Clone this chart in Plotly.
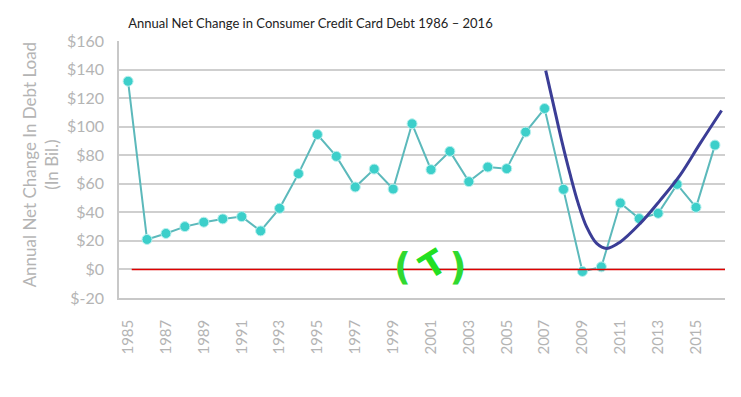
import plotly.graph_objects as go

years = list(range(1985, 2017))
net_change = [131.8, 21.0, 25.2, 30.0, 33.1, 35.4, 37.0, 27.0, 42.8, 67.1,
              94.5, 79.2, 57.7, 70.3, 56.3, 102.0, 69.9, 82.7, 61.5, 71.7,
              70.6, 96.2, 112.7, 56.1, -1.4, 1.8, 46.5, 35.6, 39.3, 59.6,
              43.5, 87.1]

trend_x = [2007.06, 2007.46, 2007.90, 2008.34, 2008.78, 2009.22, 2009.75,
           2010.28, 2010.98, 2012.04, 2013.10, 2014.15, 2015.21, 2016.35]
trend_y = [139.3, 116.0, 90.4, 67.1, 46.1, 29.8, 18.2,
           14.7, 19.1, 32.1, 48.4, 65.9, 88.1, 111.3]

x_ticks = list(range(1985, 2016, 2))
y_ticks = [-20, 0, 20, 40, 60, 80, 100, 120, 140, 160]
y_ticktext = ["$-20", "$0", "$20", "$40", "$60", "$80", "$100", "$120", "$140", "$160"]

FONT = "Lato"
GRAY = "#b4b4b4"

fig = go.Figure()

fig.add_trace(go.Scatter(
    x=years, y=net_change, mode="lines+markers",
    line=dict(color="#5cb9bb", width=2),
    marker=dict(color="#3ccfca", size=10, line=dict(color="#b8f0ee", width=1)),
    showlegend=False, hoverinfo="x+y"))

fig.add_trace(go.Scatter(
    x=trend_x, y=trend_y, mode="lines",
    line=dict(color="#3b3d96", width=3, shape="spline", smoothing=1.0),
    showlegend=False, hoverinfo="skip"))

fig.add_shape(type="line", xref="paper", yref="y", x0=0.021, x1=1.0, y0=0, y1=0,
              line=dict(color="#e00000", width=1.6), layer="above")

fig.add_annotation(x=2000.95, y=1.5, xref="x", yref="y", text="<b>(   )</b>",
                   showarrow=False, font=dict(family="DejaVu Sans", size=37, color="#30d930"))
fig.add_annotation(x=2001.1, y=4, xref="x", yref="y", text="<b>T</b>", textangle=-32,
                   showarrow=False, font=dict(family="DejaVu Sans", size=34, color="#22e022"))

fig.add_annotation(x=-0.13, y=0.517, xref="paper", yref="paper",
                   xanchor="center", yanchor="middle",
                   text="Annual Net Change In Debt Load<br>(In Bil.)",
                   textangle=-90, showarrow=False,
                   font=dict(family=FONT, size=17, color=GRAY))

fig.update_layout(
    width=733, height=389,
    margin=dict(l=111, r=16, t=33, b=99),
    paper_bgcolor="white", plot_bgcolor="white",
    title=dict(text="Annual Net Change in Consumer Credit Card Debt 1986 – 2016",
               x=0.164, xanchor="left", xref="container", y=0.96, yanchor="middle",
               font=dict(family=FONT, size=13, color="#222222")),
    xaxis=dict(range=[1984.52, 2016.53], tickvals=x_ticks, tickangle=-90,
               showgrid=False, zeroline=False, showline=True, linecolor="#c8c8c8",
               linewidth=1.5, ticks="", ticklabelstandoff=14,
               tickfont=dict(family=FONT, size=15, color=GRAY)),
    yaxis=dict(range=[-20, 160], tickvals=y_ticks, ticktext=y_ticktext,
               showgrid=True, gridcolor="#cfcfcf", gridwidth=1.5, zeroline=False,
               showline=True, linecolor="#c8c8c8", linewidth=1.5, ticks="",
               ticklabelstandoff=10,
               tickfont=dict(family=FONT, size=16, color=GRAY)),
)

fig.write_html("out.html")
